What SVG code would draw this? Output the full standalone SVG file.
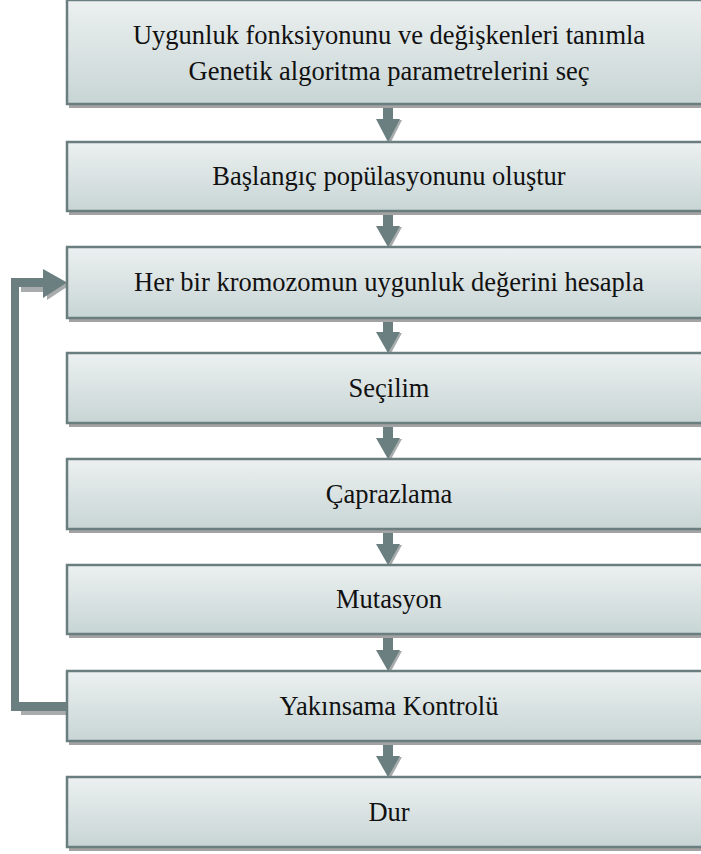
<svg xmlns="http://www.w3.org/2000/svg" width="701" height="854" viewBox="0 0 701 854">
<defs>
<linearGradient id="g" x1="0" y1="0" x2="0" y2="1">
<stop offset="0" stop-color="#ecf0f0"/>
<stop offset="1" stop-color="#c8d5d5"/>
</linearGradient>
<style>
.box{fill:url(#g);stroke:#6b7e7f;stroke-width:2.5}
.sh{fill:#a3a3a3}
.t{font-size:26.5px;fill:#111;text-anchor:middle}
.ar{fill:#6c7f80}
.as{fill:#a8acac}
</style>
</defs>
<g id="connectors">
<path class="as" d="M21,710 L67,710 L67,715 L21,715 Z M21,286 L47,286 L47,292 L21,292 Z M47,274 L70,285 L47,300 Z"/>
<path class="ar" d="M67,702 L19,702 L19,287 L43,287 L43,298 L67,282.5 L43,269 L43,278 L11,278 L11,711 L67,711 Z"/>
<g id="a1"><path class="as" d="M378,120 L402,120 L390,144 Z"/><path class="ar" d="M383,105 L393,105 L393,119 L400,119 L388,142 L376,119 L383,119 Z"/></g>
<g id="a2"><path class="as" d="M378,227 L402,227 L390,249 Z"/><path class="ar" d="M383,212 L393,212 L393,226 L400,226 L388,247 L376,226 L383,226 Z"/></g>
<g id="a3"><path class="as" d="M378,333 L402,333 L390,355 Z"/><path class="ar" d="M383,319 L393,319 L393,332 L400,332 L388,353 L376,332 L383,332 Z"/></g>
<g id="a4"><path class="as" d="M378,439 L402,439 L390,461 Z"/><path class="ar" d="M383,424 L393,424 L393,438 L400,438 L388,459 L376,438 L383,438 Z"/></g>
<g id="a5"><path class="as" d="M378,545 L402,545 L390,567 Z"/><path class="ar" d="M383,530 L393,530 L393,544 L400,544 L388,565 L376,544 L383,544 Z"/></g>
<g id="a6"><path class="as" d="M378,651 L402,651 L390,673 Z"/><path class="ar" d="M383,635 L393,635 L393,650 L400,650 L388,671 L376,650 L383,650 Z"/></g>
<g id="a7"><path class="as" d="M378,757 L402,757 L390,779 Z"/><path class="ar" d="M383,742 L393,742 L393,756 L400,756 L388,777 L376,756 L383,756 Z"/></g>
</g>
<g font-family="Liberation Serif, Times New Roman, serif">
<g id="n1"><rect class="sh" x="69" y="4" width="650" height="104"/><rect class="box" x="67" y="0" width="650" height="104"/>
<text class="t" x="389" y="44">Uygunluk fonksiyonunu ve değişkenleri tanımla</text>
<text class="t" x="389" y="80">Genetik algoritma parametrelerini seç</text></g>
<g id="n2"><rect class="sh" x="69" y="145" width="650" height="70"/><rect class="box" x="67" y="142" width="650" height="69"/><text class="t" x="389" y="185">Başlangıç popülasyonunu oluştur</text></g>
<g id="n3"><rect class="sh" x="69" y="251" width="650" height="71"/><rect class="box" x="67" y="247" width="650" height="71"/><text class="t" x="389" y="291">Her bir kromozomun uygunluk değerini hesapla</text></g>
<g id="n4"><rect class="sh" x="69" y="357" width="650" height="70"/><rect class="box" x="67" y="353" width="650" height="70"/><text class="t" x="389" y="396.5">Seçilim</text></g>
<g id="n5"><rect class="sh" x="69" y="463" width="650" height="70"/><rect class="box" x="67" y="459" width="650" height="70"/><text class="t" x="389" y="502.5">Çaprazlama</text></g>
<g id="n6"><rect class="sh" x="69" y="569" width="650" height="69"/><rect class="box" x="67" y="565" width="650" height="69"/><text class="t" x="389" y="608">Mutasyon</text></g>
<g id="n7"><rect class="sh" x="69" y="675" width="650" height="70"/><rect class="box" x="67" y="671" width="650" height="70"/><text class="t" x="389" y="714.5">Yakınsama Kontrolü</text></g>
<g id="n8"><rect class="sh" x="69" y="781" width="650" height="70"/><rect class="box" x="67" y="777" width="650" height="70"/><text class="t" x="389" y="820.5">Dur</text></g>
</g>
</svg>
